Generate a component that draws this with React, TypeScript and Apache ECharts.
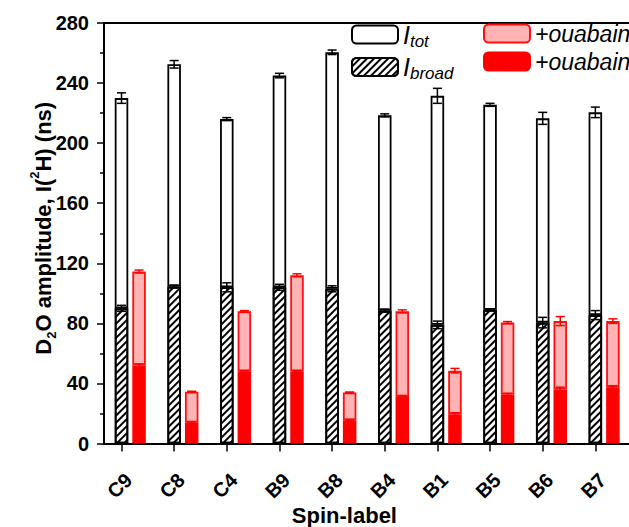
import React, { useEffect, useRef } from 'react';
import * as echarts from 'echarts';

const spinLabels = ['C9', 'C8', 'C4', 'B9', 'B8', 'B4', 'B1', 'B5', 'B6', 'B7'];
const totValues = [230, 252.5, 216, 245, 260.5, 218.5, 231.5, 225.5, 216.5, 220.5];
const totErrors = [3.5, 2.5, 1, 1.5, 1.5, 1, 5, 1, 4, 3.5];
const broadValues = [90, 104.5, 104, 104, 103, 88.5, 79, 89, 80.5, 85.5];
const broadErrors = [2, 1, 3, 2, 2, 1, 2.5, 0.5, 3.5, 3];
const totOuabain = [114.5, 34.5, 88, 112, 34, 88, 48.5, 80.5, 81.5, 81.5];
const totOuabainErrors = [1, 0.3, 0.5, 1, 0.3, 1, 1.5, 0.7, 3, 1.5];
const broadOuabain = [52, 14, 48, 48, 15.5, 31, 19.5, 32.5, 36, 37.5];
const broadOuabainErrors = [1, 0.5, 0.5, 0.5, 0.5, 1, 1, 1, 1.5, 1];
const yTicks = [0, 40, 80, 120, 160, 200, 240, 280];

const FONT = '"Liberation Sans", Arial, Helvetica, sans-serif';
const BAR_W = 13.5;
const GAP = 0.3;
const RED_OFFSET = BAR_W * (1 + GAP);
const CAP = 4.5;

function errRender(offset: number, color: string) {
  return (params: any, api: any) => {
    const x = api.value(0);
    const v = api.value(1);
    const e = api.value(2);
    const hi = api.coord([x, v + e]);
    const lo = api.coord([x, v - e]);
    const cx = hi[0] + offset;
    const style = { stroke: color, lineWidth: 1.5 };
    return {
      type: 'group',
      children: [
        { type: 'line', shape: { x1: cx, y1: hi[1], x2: cx, y2: lo[1] }, style },
        { type: 'line', shape: { x1: cx - CAP, y1: hi[1], x2: cx + CAP, y2: hi[1] }, style },
        { type: 'line', shape: { x1: cx - CAP, y1: lo[1], x2: cx + CAP, y2: lo[1] }, style },
      ],
    };
  };
}

function errSeries(vals: number[], errs: number[], offset: number, color: string) {
  return {
    type: 'custom',
    xAxisIndex: 0,
    yAxisIndex: 0,
    z: 5,
    silent: true,
    renderItem: errRender(offset, color),
    data: vals.map((v, i) => [i, v, errs[i]]),
  };
}

export default function App() {
  const ref = useRef<HTMLDivElement>(null);
  useEffect(() => {
    const chart = echarts.init(ref.current!, null, { renderer: 'svg' });
    const barCommon = {
      type: 'bar',
      xAxisIndex: 0,
      yAxisIndex: 0,
      barWidth: BAR_W,
      barGap: GAP * 100 + '%',
      silent: true,
    };
    const legendRich = {
      I: { fontSize: 25, fontStyle: 'italic', fontFamily: FONT, color: '#000', lineHeight: 30 },
      s: { fontSize: 17, fontStyle: 'italic', fontFamily: FONT, color: '#000', lineHeight: 12, verticalAlign: 'bottom' },
      o: { fontSize: 23, fontStyle: 'italic', fontFamily: FONT, color: '#000', lineHeight: 30 },
    };
    const option: any = {
      animation: false,
      backgroundColor: '#fff',
      grid: [
        { left: 121.5, right: 33.65, top: 23, bottom: 83.5, outerBoundsMode: 'none', containLabel: false },
        { left: 104, right: -6, top: 23, bottom: 83.5, outerBoundsMode: 'none', containLabel: false },
      ],
      legend: [
        {
          data: ['I_tot', 'I_broad'],
          orient: 'vertical',
          left: 346,
          top: 17,
          itemWidth: 46,
          itemHeight: 18,
          itemGap: 5,
          selectedMode: false,
          formatter: (n: string) => (n === 'I_tot' ? '{I|I}{s|tot}' : '{I|I}{s|broad}'),
          textStyle: { padding: [0, 0, 0, 0], rich: legendRich },
        },
        {
          data: ['ouabain_tot', 'ouabain_broad'],
          orient: 'vertical',
          left: 478,
          top: 17,
          itemWidth: 46,
          itemHeight: 18,
          itemGap: 5,
          selectedMode: false,
          formatter: () => '{o|+ouabain}',
          textStyle: { padding: [0, 0, 0, 0], rich: legendRich },
        },
      ],
      xAxis: [
        {
          gridIndex: 0,
          type: 'category',
          data: spinLabels,
          boundaryGap: false,
          axisLine: { show: false },
          axisTick: { show: true, length: 8, lineStyle: { color: '#000', width: 1.5 } },
          axisLabel: {
            rotate: 45,
            interval: 0,
            fontSize: 20,
            fontWeight: 'bold',
            fontFamily: FONT,
            color: '#000',
            margin: 26,
            align: 'right',
            verticalAlign: 'top',
          },
          splitLine: { show: false },
          name: 'Spin-label',
          nameLocation: 'middle',
          nameGap: 61,
          nameMoveOverlap: false,
          nameTextStyle: {
            fontSize: 22,
            lineHeight: 22,
            fontWeight: 'bold',
            fontFamily: FONT,
            color: '#000',
            padding: [0, 28, 0, 0],
          },
        },
        {
          gridIndex: 1,
          type: 'value',
          min: 0,
          max: 1,
          position: 'bottom',
          axisLine: { show: true, lineStyle: { color: '#000', width: 2 } },
          axisTick: { show: false },
          axisLabel: { show: false },
          splitLine: { show: false },
        },
        {
          gridIndex: 1,
          type: 'value',
          min: 0,
          max: 1,
          position: 'top',
          axisLine: { show: true, lineStyle: { color: '#000', width: 2 } },
          axisTick: { show: false },
          axisLabel: { show: false },
          splitLine: { show: false },
        },
      ],
      yAxis: [
        { gridIndex: 0, type: 'value', min: 0, max: 280, show: false },
        {
          gridIndex: 1,
          type: 'value',
          min: yTicks[0],
          max: yTicks[yTicks.length - 1],
          interval: 40,
          axisLine: { show: true, lineStyle: { color: '#000', width: 2 } },
          axisTick: { show: true, length: 7, lineStyle: { color: '#000', width: 1.5 } },
          minorTick: { show: true, splitNumber: 2, length: 4, lineStyle: { color: '#000', width: 1.5 } },
          axisLabel: { fontSize: 20, fontWeight: 'bold', fontFamily: FONT, color: '#000', margin: 15 },
          splitLine: { show: false },
          minorSplitLine: { show: false },
          name: '{b|D}{sub|2}{b|O amplitude, I(}{sup|2}{b|H) (ns)}',
          nameLocation: 'middle',
          nameGap: 46,
          nameMoveOverlap: false,
          nameTextStyle: {
            padding: [0, 0, 0, 10],
            rich: {
              b: { fontSize: 22, fontWeight: 'bold', fontFamily: FONT, color: '#000', lineHeight: 30 },
              sub: { fontSize: 13, fontWeight: 'bold', fontFamily: FONT, color: '#000', lineHeight: 12, verticalAlign: 'bottom' },
              sup: { fontSize: 13, fontWeight: 'bold', fontFamily: FONT, color: '#000', lineHeight: 12, verticalAlign: 'top' },
            },
          },
        },
      ],
      series: [
        { ...barCommon, name: 'dummy', stack: 'd', data: spinLabels.map(() => null) },
        {
          ...barCommon,
          name: 'I_broad',
          stack: 'w',
          data: broadValues,
          itemStyle: {
            color: '#fff',
            borderColor: '#000',
            borderWidth: 1.8,
            decal: {
              symbol: 'rect',
              symbolSize: 1,
              color: '#000',
              dashArrayX: [1, 0],
              dashArrayY: [1.2, 3],
              rotation: -Math.PI / 4,
            },
          },
        },
        {
          ...barCommon,
          name: 'ouabain_broad',
          stack: 'r',
          data: broadOuabain,
          itemStyle: { color: '#ff0000', borderColor: '#ff0000', borderWidth: 1.5 },
        },
        {
          ...barCommon,
          name: 'I_tot',
          stack: 'w',
          data: totValues.map((v, i) => v - broadValues[i]),
          itemStyle: { color: '#fff', borderColor: '#000', borderWidth: 1.8 },
        },
        {
          ...barCommon,
          name: 'ouabain_tot',
          stack: 'r',
          data: totOuabain.map((v, i) => v - broadOuabain[i]),
          itemStyle: { color: '#ffb3b3', borderColor: '#ff1010', borderWidth: 1.8 },
        },
        errSeries(totValues, totErrors, 0, '#000'),
        errSeries(broadValues, broadErrors, 0, '#000'),
        errSeries(totOuabain, totOuabainErrors, RED_OFFSET, '#ff0000'),
        errSeries(broadOuabain, broadOuabainErrors, RED_OFFSET, '#ff0000'),
      ],
    };
    chart.setOption(option);
    return () => chart.dispose();
  }, []);
  return (
    <div
      ref={ref}
      style={{ position: 'absolute', left: 0, top: 0, width: 629, height: 527, background: '#fff' }}
    />
  );
}
